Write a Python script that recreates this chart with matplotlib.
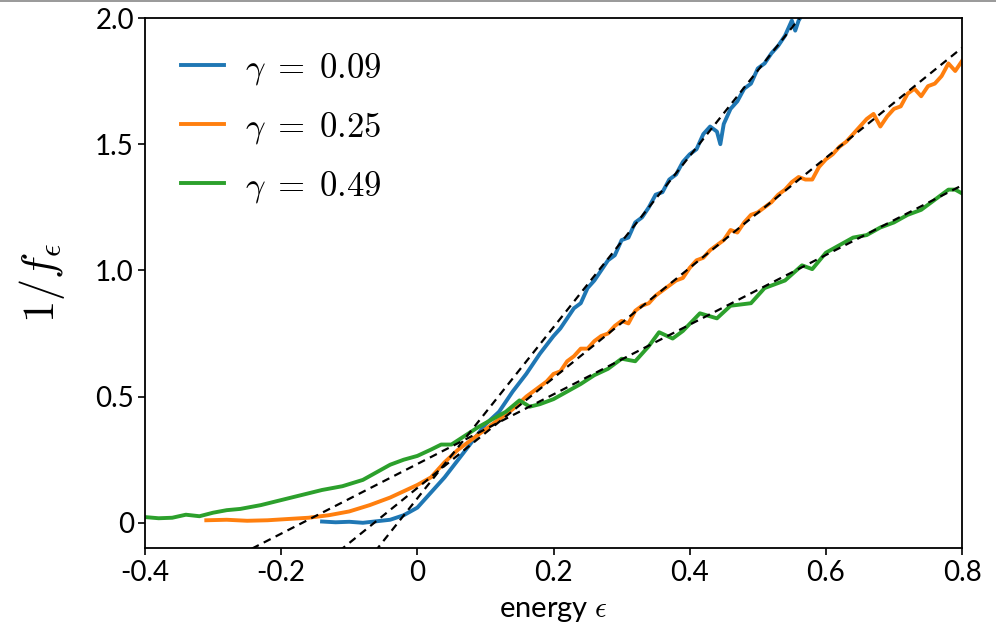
import matplotlib
matplotlib.use("Agg")
import matplotlib.pyplot as plt
from matplotlib.lines import Line2D

plt.rcParams["font.family"] = ["Lato", "DejaVu Sans"]
plt.rcParams["mathtext.fontset"] = "cm"
plt.rcParams["axes.unicode_minus"] = False

# gamma = 0.09
eps_b = [-0.14, -0.12, -0.10, -0.08, -0.06, -0.04, -0.02, 0.00, 0.02, 0.04,
         0.06, 0.08, 0.10, 0.12, 0.14, 0.16, 0.18, 0.20, 0.21, 0.22,
         0.23, 0.24, 0.25, 0.26, 0.27, 0.28, 0.29, 0.30, 0.31, 0.32,
         0.33, 0.34, 0.35, 0.36, 0.37, 0.38, 0.39, 0.40, 0.41, 0.42,
         0.43, 0.44, 0.445, 0.45, 0.46, 0.47, 0.48, 0.49, 0.50, 0.51,
         0.52, 0.53, 0.54, 0.55, 0.555, 0.56, 0.58]
f_b = [0.005, 0.002, 0.004, 0.000, 0.006, 0.012, 0.030, 0.060, 0.120, 0.180,
       0.250, 0.320, 0.390, 0.440, 0.520, 0.590, 0.670, 0.740, 0.770, 0.810,
       0.850, 0.870, 0.930, 0.960, 1.000, 1.040, 1.060, 1.120, 1.130, 1.190,
       1.210, 1.250, 1.300, 1.310, 1.360, 1.380, 1.430, 1.460, 1.480, 1.540,
       1.570, 1.550, 1.500, 1.580, 1.640, 1.670, 1.720, 1.740, 1.800, 1.820,
       1.860, 1.890, 1.930, 1.990, 1.950, 1.990, 2.080]

# gamma = 0.25
eps_o = [-0.31, -0.28, -0.25, -0.22, -0.19, -0.16, -0.13, -0.10, -0.07, -0.04,
         -0.02, 0.00, 0.02, 0.04, 0.06, 0.08, 0.10, 0.12, 0.14, 0.16,
         0.17, 0.18, 0.19, 0.20, 0.21, 0.22, 0.23, 0.24, 0.25, 0.26,
         0.27, 0.28, 0.29, 0.30, 0.31, 0.32, 0.33, 0.34, 0.35, 0.36,
         0.37, 0.38, 0.39, 0.40, 0.41, 0.42, 0.43, 0.44, 0.45, 0.46,
         0.47, 0.48, 0.49, 0.50, 0.51, 0.52, 0.53, 0.54, 0.55, 0.56,
         0.57, 0.58, 0.59, 0.60, 0.61, 0.62, 0.63, 0.64, 0.65, 0.66,
         0.67, 0.68, 0.69, 0.70, 0.71, 0.72, 0.73, 0.74, 0.75, 0.76,
         0.77, 0.78, 0.79, 0.80]
f_o = [0.010, 0.012, 0.008, 0.010, 0.015, 0.020, 0.030, 0.045, 0.070, 0.100,
       0.125, 0.150, 0.180, 0.240, 0.290, 0.330, 0.370, 0.410, 0.450, 0.500,
       0.520, 0.540, 0.560, 0.590, 0.600, 0.640, 0.660, 0.690, 0.690, 0.720,
       0.740, 0.750, 0.780, 0.800, 0.790, 0.840, 0.860, 0.870, 0.900, 0.920,
       0.940, 0.960, 0.970, 1.010, 1.040, 1.050, 1.080, 1.100, 1.120, 1.160,
       1.150, 1.190, 1.220, 1.230, 1.250, 1.270, 1.300, 1.320, 1.350, 1.370,
       1.360, 1.360, 1.410, 1.440, 1.460, 1.490, 1.510, 1.540, 1.570, 1.600,
       1.620, 1.570, 1.610, 1.640, 1.650, 1.700, 1.720, 1.690, 1.730, 1.740,
       1.770, 1.820, 1.790, 1.830]

# gamma = 0.49
eps_g = [-0.41, -0.38, -0.36, -0.34, -0.32, -0.30, -0.28, -0.26, -0.23, -0.20,
         -0.17, -0.14, -0.11, -0.08, -0.06, -0.04, -0.02, 0.00, 0.02, 0.035,
         0.05, 0.07, 0.09, 0.11, 0.13, 0.15, 0.165, 0.18, 0.20, 0.22,
         0.24, 0.26, 0.28, 0.30, 0.32, 0.34, 0.355, 0.375, 0.39, 0.415,
         0.44, 0.46, 0.49, 0.51, 0.54, 0.565, 0.58, 0.60, 0.62, 0.64,
         0.66, 0.68, 0.70, 0.72, 0.74, 0.76, 0.78, 0.79, 0.80]
f_g = [0.025, 0.018, 0.020, 0.032, 0.026, 0.040, 0.050, 0.055, 0.070, 0.090,
       0.110, 0.130, 0.145, 0.170, 0.200, 0.230, 0.250, 0.265, 0.290, 0.310,
       0.310, 0.345, 0.380, 0.410, 0.440, 0.485, 0.460, 0.470, 0.490, 0.520,
       0.550, 0.585, 0.610, 0.650, 0.640, 0.700, 0.755, 0.730, 0.760, 0.830,
       0.810, 0.860, 0.870, 0.930, 0.960, 1.020, 1.005, 1.070, 1.100, 1.130,
       1.140, 1.170, 1.190, 1.220, 1.240, 1.280, 1.320, 1.320, 1.305]

labels = [r"$\gamma\;=\;0.09$", r"$\gamma\;=\;0.25$", r"$\gamma\;=\;0.49$"]
colors = ["#1f77b4", "#ff7f0e", "#2ca02c"]

# linear fits, given by their values at the ends of the x range
fit_x = [-0.4, 0.8]
fit_y = [[-1.259, 2.809], [-0.734, 1.882], [-0.319, 1.337]]

xticks = [-0.4, -0.2, 0, 0.2, 0.4, 0.6, 0.8]
xticklabels = ["-0.4", "-0.2", "0", "0.2", "0.4", "0.6", "0.8"]
yticks = [0, 0.5, 1.0, 1.5, 2.0]
yticklabels = ["0", "0.5", "1.0", "1.5", "2.0"]

fig = plt.figure(figsize=(9.96, 6.34), dpi=100)
ax = fig.add_axes([0.1456, 0.1356, 0.8203, 0.836])

series = [(eps_b, f_b), (eps_o, f_o), (eps_g, f_g)]
for (x, y), c, lab in zip(series, colors, labels):
    ax.plot(x, y, color=c, lw=2.8, label=lab, zorder=2)
for fy in fit_y:
    ax.plot(fit_x, fy, color="black", lw=1.6, dashes=(3.5, 2.5), zorder=3)

ax.set_xlim(-0.4, 0.8)
ax.set_ylim(-0.1, 2.0)
ax.set_xticks(xticks)
ax.set_xticklabels(xticklabels)
ax.set_yticks(yticks)
ax.set_yticklabels(yticklabels)
ax.tick_params(labelsize=20, length=5, width=1.2, direction="out")
ax.tick_params(axis="y", pad=3)
for s in ax.spines.values():
    s.set_linewidth(1.3)

ax.set_xlabel(r"energy $\epsilon$", fontsize=21, labelpad=9)
ax.set_ylabel(r"$1/f_\epsilon$", fontsize=32, labelpad=20)

ax.legend(loc="upper left", bbox_to_anchor=(0.01, 0.99), frameon=False,
          fontsize=25, handlelength=1.25, handletextpad=0.6, labelspacing=0.66,
          borderaxespad=0.4)

# thin grey border line at the top of the picture
fig.add_artist(Line2D([0, 1], [0.998, 0.998], transform=fig.transFigure,
                      color="#888888", lw=1.2))

fig.savefig("out.png", dpi=100)
